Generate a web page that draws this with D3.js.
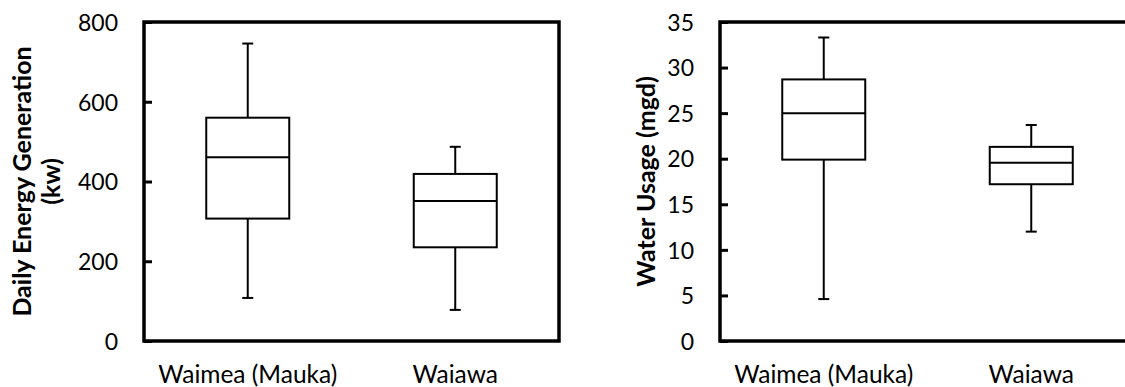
<!DOCTYPE html>
<html>
<head>
<meta charset="utf-8">
<script src="https://cdn.jsdelivr.net/npm/d3@7"></script>
<style>
  body { margin: 0; background: #fff; }
  text { font-family: Lato, "Open Sans", sans-serif; fill: #000; }
</style>
</head>
<body>
<script>
// sites on the x axis
const sites = ["Waimea (Mauka)", "Waiawa"];

// daily energy generation (kw), box stats per site
const energyMin = [108, 78];
const energyQ1 = [307, 235];
const energyMedian = [461, 351];
const energyQ3 = [560, 419];
const energyMax = [746, 487];
const energyTicks = [0, 200, 400, 600, 800];

// water usage (mgd), box stats per site
const waterMin = [4.6, 12.0];
const waterQ1 = [19.9, 17.2];
const waterMedian = [25.0, 19.55];
const waterQ3 = [28.7, 21.3];
const waterMax = [33.3, 23.7];
const waterTicks = [0, 5, 10, 15, 20, 25, 30, 35];

const W = 1125, H = 387;

let svg = d3.select("body").append("svg")
    .attr("width", W)
    .attr("height", H);

function buildStats(min, q1, med, q3, max) {
  return sites.map((s, i) => ({site: s, min: min[i], q1: q1[i], med: med[i], q3: q3[i], max: max[i]}));
}

function drawPanel(left, stats, ticks, yMax, labelLines, labelXs) {
  let top = 22, bottom = 341, plotW = 415;
  let g = svg.append("g").attr("transform", "translate(" + left + ",0)");

  let x = d3.scaleBand().domain(sites).range([0, plotW]).padding(0);
  let y = d3.scaleLinear().domain([0, yMax]).range([bottom, top]);

  let boxW = x.bandwidth() * 0.4;
  let capW = 11;

  let yAxis = g.append("g")
      .call(d3.axisLeft(y).tickValues(ticks).tickSizeInner(-8).tickSizeOuter(0).tickPadding(26));
  yAxis.select(".domain").remove();
  yAxis.selectAll(".tick line").attr("stroke", "#000").attr("stroke-width", 3);
  yAxis.selectAll(".tick text")
    .attr("font-size", 23)
    .attr("font-family", "Lato, sans-serif")
    .attr("dy", "0.36em");

  let xAxis = g.append("g")
      .attr("transform", "translate(0," + bottom + ")")
      .call(d3.axisBottom(x).tickSize(0).tickPadding(25));
  xAxis.select(".domain").remove();
  xAxis.selectAll(".tick text")
    .attr("font-size", 24.5)
    .attr("font-family", "Lato, sans-serif");

  // frame
  g.append("rect")
    .attr("x", 0)
    .attr("y", top)
    .attr("width", plotW)
    .attr("height", bottom - top)
    .attr("fill", "none")
    .attr("stroke", "#000")
    .attr("stroke-width", 3.5);

  let box = g.append("g").selectAll("g")
      .data(stats)
      .enter().append("g")
      .attr("transform", d => "translate(" + (x(d.site) + x.bandwidth() / 2) + ",0)");

  box.append("line")
    .attr("x1", 0).attr("x2", 0)
    .attr("y1", d => y(d.max)).attr("y2", d => y(d.q3))
    .attr("stroke", "#000").attr("stroke-width", 2);
  box.append("line")
    .attr("x1", 0).attr("x2", 0)
    .attr("y1", d => y(d.q1)).attr("y2", d => y(d.min))
    .attr("stroke", "#000").attr("stroke-width", 2);
  box.append("line")
    .attr("x1", -capW / 2).attr("x2", capW / 2)
    .attr("y1", d => y(d.max)).attr("y2", d => y(d.max))
    .attr("stroke", "#000").attr("stroke-width", 2);
  box.append("line")
    .attr("x1", -capW / 2).attr("x2", capW / 2)
    .attr("y1", d => y(d.min)).attr("y2", d => y(d.min))
    .attr("stroke", "#000").attr("stroke-width", 2);
  box.append("rect")
    .attr("x", -boxW / 2)
    .attr("width", boxW)
    .attr("y", d => y(d.q3))
    .attr("height", d => y(d.q1) - y(d.q3))
    .attr("fill", "#fff")
    .attr("stroke", "#000").attr("stroke-width", 2);
  box.append("line")
    .attr("x1", -boxW / 2).attr("x2", boxW / 2)
    .attr("y1", d => y(d.med)).attr("y2", d => y(d.med))
    .attr("stroke", "#000").attr("stroke-width", 2);

  // y title, one text per line
  let cy = (top + bottom) / 2;
  labelLines.forEach((t, i) => {
    g.append("text")
      .attr("transform", "translate(" + labelXs[i] + "," + cy + ") rotate(-90)")
      .attr("text-anchor", "middle")
      .attr("dy", "0.36em")
      .attr("font-size", 25)
      .attr("font-weight", "bold")
      .text(t);
  });
}

drawPanel(144, buildStats(energyMin, energyQ1, energyMedian, energyQ3, energyMax),
  energyTicks, 800, ["Daily Energy Generation", "(kw)"], [-122, -93]);
drawPanel(720, buildStats(waterMin, waterQ1, waterMedian, waterQ3, waterMax),
  waterTicks, 35, ["Water Usage (mgd)"], [-74]);
</script>
</body>
</html>
